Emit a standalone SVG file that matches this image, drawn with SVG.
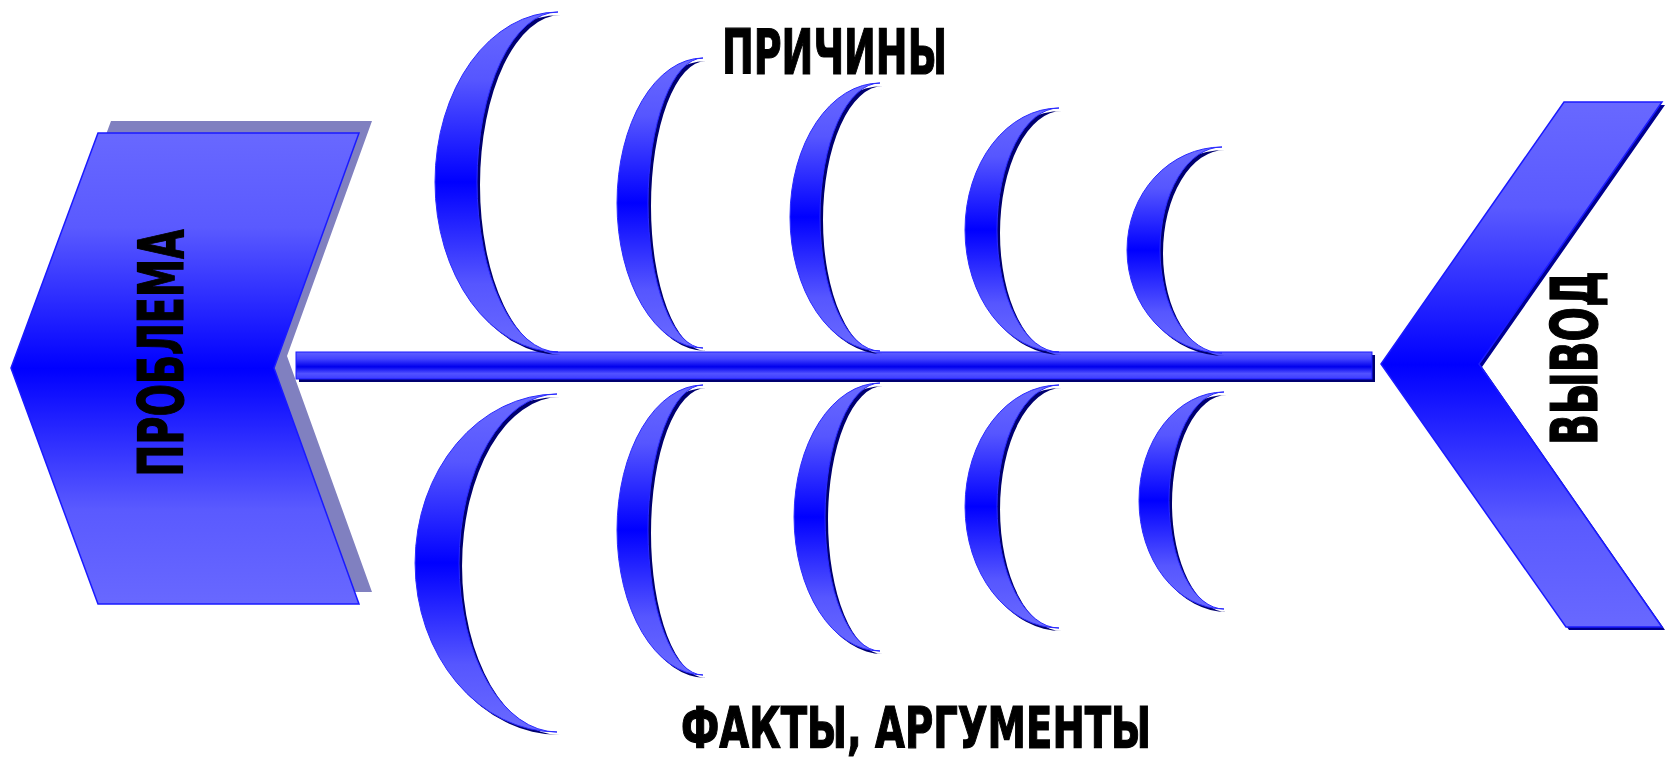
<svg xmlns="http://www.w3.org/2000/svg" xmlns:xlink="http://www.w3.org/1999/xlink" width="1669" height="762" viewBox="0 0 1669 762">
<style>
.cres{fill:url(#gC);stroke:#2a2aff;stroke-width:1}
.csh{fill:#000070}
.chev{fill:url(#gV);stroke:#1a1aff;stroke-width:1.5}
.lbl{font-family:"DejaVu Sans Condensed","DejaVu Sans","Liberation Sans",sans-serif;font-weight:bold;fill:#000;stroke:#000;stroke-width:1.2}
</style>
<defs>
<linearGradient id="gC" x1="0" y1="0" x2="0" y2="1">
<stop offset="0" stop-color="#6a6aff"/>
<stop offset="0.2" stop-color="#5656ff"/>
<stop offset="0.5" stop-color="#0000ff"/>
<stop offset="0.8" stop-color="#5656ff"/>
<stop offset="1" stop-color="#6a6aff"/>
</linearGradient>
<linearGradient id="gV" x1="0" y1="0" x2="0" y2="1">
<stop offset="0" stop-color="#6868ff"/>
<stop offset="0.2" stop-color="#5a5aff"/>
<stop offset="0.5" stop-color="#0000ff"/>
<stop offset="0.8" stop-color="#5a5aff"/>
<stop offset="1" stop-color="#6868ff"/>
</linearGradient>
<linearGradient id="gS" x1="0" y1="0" x2="0" y2="1">
<stop offset="0" stop-color="#6060ff"/>
<stop offset="0.25" stop-color="#4444ff"/>
<stop offset="0.55" stop-color="#0000ee"/>
<stop offset="0.8" stop-color="#5252ff"/>
<stop offset="1" stop-color="#3a3aff"/>
</linearGradient>
</defs>

<g id="connectors">
<rect x="299" y="355" width="1076" height="27" fill="#000070"/>
<rect x="296" y="352" width="1076" height="27" fill="url(#gS)" stroke="#1a1aff" stroke-width="1"/>
</g>

<g id="problem">
<polygon points="111,121 372,121 287,356 372,592 111,592 24,356" fill="#8080c0"/>
<polygon class="chev" points="98,133 359,133 274,368 359,604 98,604 11,368"/>
<text class="lbl" transform="translate(183,353) rotate(-90)" text-anchor="middle" font-size="63" textLength="247" lengthAdjust="spacingAndGlyphs">ПРОБЛЕМА</text>
</g>

<g id="conclusion">
<polygon points="1567,105 1665,105 1482,367 1665,630 1569,630 1384,367" fill="#000090"/>
<polygon class="chev" points="1564,102 1662,102 1479,364 1662,627 1566,627 1381,364"/>
<text class="lbl" transform="translate(1597,358) rotate(-90)" text-anchor="middle" font-size="64" textLength="174" lengthAdjust="spacingAndGlyphs">ВЫВОД</text>
</g>

<g id="cause-1">
<path class="csh" transform="translate(3,3)" d="M558,12 A123,170 0 0 0 558,352 A81,170 0 0 1 558,12 Z"/>
<path class="cres" d="M558,12 A123,170 0 0 0 558,352 A81,170 0 0 1 558,12 Z"/>
</g>
<g id="cause-2">
<path class="csh" transform="translate(3,3)" d="M703,58 A86,145 0 0 0 703,348 A55,145 0 0 1 703,58 Z"/>
<path class="cres" d="M703,58 A86,145 0 0 0 703,348 A55,145 0 0 1 703,58 Z"/>
</g>
<g id="cause-3">
<path class="csh" transform="translate(3,3)" d="M880,83 A90,134 0 0 0 880,351 A60,134 0 0 1 880,83 Z"/>
<path class="cres" d="M880,83 A90,134 0 0 0 880,351 A60,134 0 0 1 880,83 Z"/>
</g>
<g id="cause-4">
<path class="csh" transform="translate(3,3)" d="M1059,108 A94,122 0 0 0 1059,352 A62,122 0 0 1 1059,108 Z"/>
<path class="cres" d="M1059,108 A94,122 0 0 0 1059,352 A62,122 0 0 1 1059,108 Z"/>
</g>
<g id="cause-5">
<path class="csh" transform="translate(3,3)" d="M1222,147 A95,103 0 0 0 1222,353 A62,103 0 0 1 1222,147 Z"/>
<path class="cres" d="M1222,147 A95,103 0 0 0 1222,353 A62,103 0 0 1 1222,147 Z"/>
</g>

<g id="fact-1">
<path class="csh" transform="translate(3,3)" d="M557,394 A142,169 0 0 0 557,732 A98,169 0 0 1 557,394 Z"/>
<path class="cres" d="M557,394 A142,169 0 0 0 557,732 A98,169 0 0 1 557,394 Z"/>
</g>
<g id="fact-2">
<path class="csh" transform="translate(3,3)" d="M703,385 A86,145 0 0 0 703,675 A55,145 0 0 1 703,385 Z"/>
<path class="cres" d="M703,385 A86,145 0 0 0 703,675 A55,145 0 0 1 703,385 Z"/>
</g>
<g id="fact-3">
<path class="csh" transform="translate(3,3)" d="M880,383 A86,134 0 0 0 880,651 A55,134 0 0 1 880,383 Z"/>
<path class="cres" d="M880,383 A86,134 0 0 0 880,651 A55,134 0 0 1 880,383 Z"/>
</g>
<g id="fact-4">
<path class="csh" transform="translate(3,3)" d="M1059,385 A94,121.5 0 0 0 1059,628 A62,121.5 0 0 1 1059,385 Z"/>
<path class="cres" d="M1059,385 A94,121.5 0 0 0 1059,628 A62,121.5 0 0 1 1059,385 Z"/>
</g>
<g id="fact-5">
<path class="csh" transform="translate(3,3)" d="M1224,392 A85,108.5 0 0 0 1224,609 A55,108.5 0 0 1 1224,392 Z"/>
<path class="cres" d="M1224,392 A85,108.5 0 0 0 1224,609 A55,108.5 0 0 1 1224,392 Z"/>
</g>

<g id="label-causes">
<text class="lbl" x="722" y="74" font-size="62" textLength="225" lengthAdjust="spacingAndGlyphs">ПРИЧИНЫ</text>
</g>
<g id="label-facts">
<text class="lbl" x="681" y="748" font-size="57" textLength="470" lengthAdjust="spacingAndGlyphs">ФАКТЫ, АРГУМЕНТЫ</text>
</g>
</svg>
